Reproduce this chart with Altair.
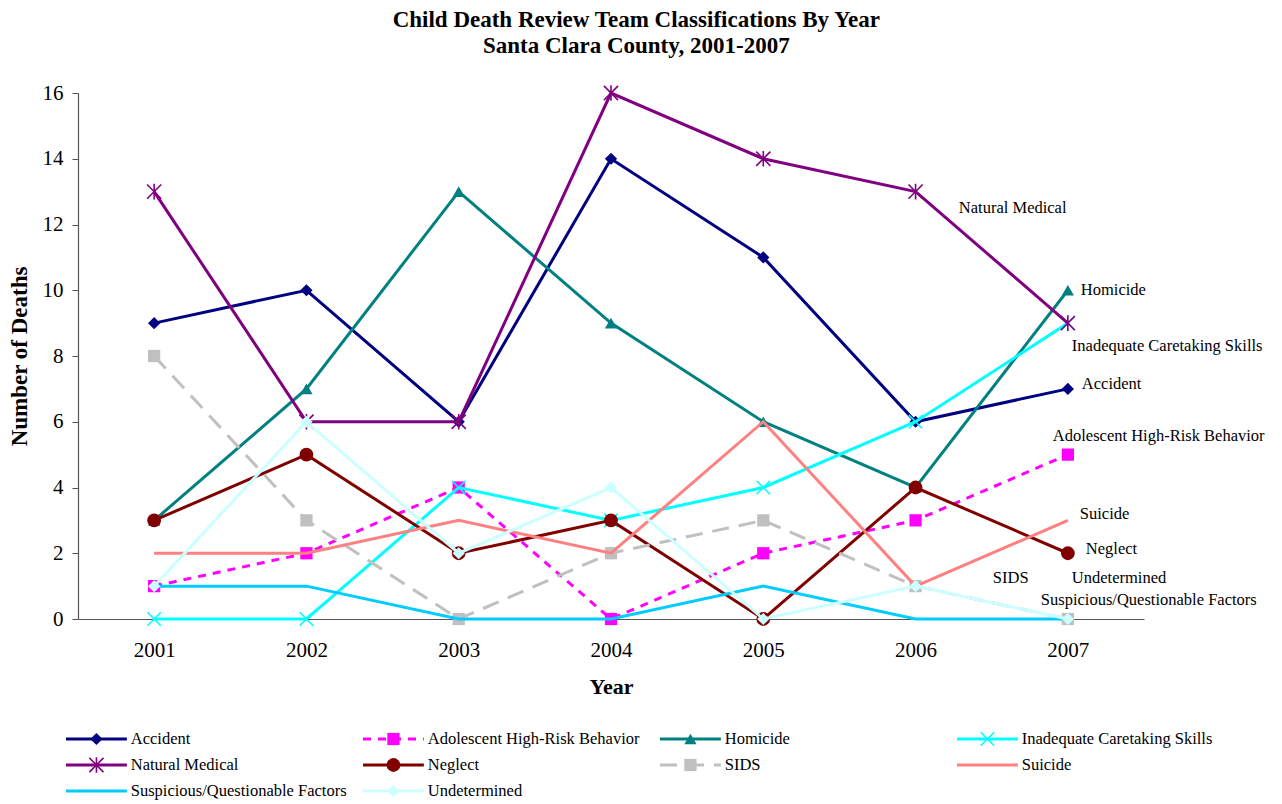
import altair as alt
import pandas as pd

FONT = "Liberation Serif"

years = ["2001", "2002", "2003", "2004", "2005", "2006", "2007"]
series = [
    "Accident",
    "Adolescent High-Risk Behavior",
    "Homicide",
    "Inadequate Caretaking Skills",
    "Natural Medical",
    "Neglect",
    "SIDS",
    "Suicide",
    "Suspicious/Questionable Factors",
    "Undetermined",
]
accident = [9, 10, 6, 14, 11, 6, 7]
adolescent = [1, 2, 4, 0, 2, 3, 5]
homicide = [3, 7, 13, 9, 6, 4, 10]
inadequate = [0, 0, 4, 3, 4, 6, 9]
natural_medical = [13, 6, 6, 16, 14, 13, 9]
neglect = [3, 5, 2, 3, 0, 4, 2]
sids = [8, 3, 0, 2, 3, 1, 0]
suicide = [2, 2, 3, 2, 6, 1, 3]
suspicious = [1, 1, 0, 0, 1, 0, 0]
undetermined = [1, 6, 2, 4, 0, 1, 0]
all_values = [accident, adolescent, homicide, inadequate, natural_medical,
              neglect, sids, suicide, suspicious, undetermined]

legend_row = [0, 0, 0, 0, 1, 1, 1, 1, 2, 2]
legend_col = [0, 1, 2, 3, 0, 1, 2, 3, 0, 1]

# styles
ASTERISK = "M-1,-1L1,1M-1,1L1,-1M0,-1.1L0,1.1"
XMARK = "M-1,-1L1,1M-1,1L1,-1"
style = {
    "Accident": dict(color="#000080", shape="diamond", filled=True, size=150),
    "Adolescent High-Risk Behavior": dict(color="#FF00FF", shape="square", filled=True, size=150, dash=[8, 7]),
    "Homicide": dict(color="#008080", shape="triangle-up", filled=True, size=150),
    "Inadequate Caretaking Skills": dict(color="#00FFFF", shape=XMARK, filled=False, size=180),
    "Natural Medical": dict(color="#800080", shape=ASTERISK, filled=False, size=200),
    "Neglect": dict(color="#800000", shape="circle", filled=True, size=190),
    "SIDS": dict(color="#C0C0C0", shape="square", filled=True, size=150, dash=[17, 10]),
    "Suicide": dict(color="#FF8080"),
    "Suspicious/Questionable Factors": dict(color="#00CCFF"),
    "Undetermined": dict(color="#CCFFFF", shape="diamond", filled=True, size=150),
}
# end-label offsets (pixels) from each series' 2007 point
label_off = {
    "Natural Medical": (-109, -115),
    "Homicide": (13, 0),
    "Inadequate Caretaking Skills": (4, 23),
    "Accident": (14, -5),
    "Adolescent High-Risk Behavior": (-15, -19),
    "Suicide": (12, -6),
    "Neglect": (18, -4),
    "SIDS": (-75, -41),
    "Undetermined": (4, -41),
    "Suspicious/Questionable Factors": (-27, -19),
}
TXT = 16.5

rows = []
for s, vals in zip(series, all_values):
    for yr, v in zip(years, vals):
        rows.append({"series": s, "year": yr, "deaths": v})
df = pd.DataFrame(rows)

x_enc = alt.X(
    "year:O",
    scale=alt.Scale(type="point", padding=0.5),
    axis=alt.Axis(title="Year", labelAngle=0, ticks=False, labelPadding=20,
                  titlePadding=16, domainColor="#555555", domainWidth=1.2,
                  labelFont=FONT, labelFontSize=21, labelColor="black",
                  titleFont=FONT, titleFontSize=22, titleFontWeight="bold", titleColor="black"),
)
y_enc = alt.Y(
    "deaths:Q",
    scale=alt.Scale(domain=[0, 16], nice=False),
    axis=alt.Axis(title="Number of Deaths", values=list(range(0, 17, 2)), grid=False,
                  tickSize=6, tickColor="#555555", domainColor="#555555", domainWidth=1.2,
                  labelPadding=9, titlePadding=11,
                  labelFont=FONT, labelFontSize=21, labelColor="black",
                  titleFont=FONT, titleFontSize=23, titleFontWeight="bold", titleColor="black"),
)

base = alt.Chart(df)
layers = []
for s in series:
    st = style[s]
    d = base.transform_filter(alt.datum.series == s)
    lk = dict(color=st["color"], strokeWidth=3, strokeCap="butt")
    if "dash" in st:
        lk["strokeDash"] = st["dash"]
    layers.append(d.mark_line(**lk).encode(x=x_enc, y=y_enc))
    if "shape" in st:
        if st["filled"]:
            pk = dict(shape=st["shape"], filled=True, color=st["color"], size=st["size"], opacity=1)
        else:
            pk = dict(shape=st["shape"], filled=False, color=st["color"], size=st["size"],
                      strokeWidth=1.6, opacity=1)
        layers.append(d.mark_point(**pk).encode(x=x_enc, y=y_enc))

for s in series:
    dx, dy = label_off[s]
    d = base.transform_filter((alt.datum.series == s) & (alt.datum.year == years[-1]))
    layers.append(
        d.mark_text(align="left", baseline="middle", dx=dx, dy=dy, font=FONT,
                    fontSize=TXT, color="black").encode(
            x=x_enc, y=y_enc, text="series:N")
    )

main = alt.layer(*layers).properties(width=1066, height=526)

# ---- manual legend ----
leg_df = pd.DataFrame({"series": series, "row": legend_row, "col": legend_col})
COLW = 297.0
LEGW = 1150
d0 = 12 / COLW
lx = alt.Scale(domain=[d0, d0 + LEGW / COLW], nice=False, zero=False)
ly = alt.Scale(domain=[-0.5, 2.5], reverse=True, nice=False, zero=False)
lbase = alt.Chart(leg_df)
leg_layers = []
for s in series:
    st = style[s]
    d = lbase.transform_filter(alt.datum.series == s).transform_calculate(
        x0="datum.col", x1="datum.col + 0.205", xm="datum.col + 0.1025", xt="datum.col + 0.218")
    rk = dict(color=st["color"], strokeWidth=3, strokeCap="butt")
    if "dash" in st:
        rk["strokeDash"] = st["dash"]
    leg_layers.append(d.mark_rule(**rk).encode(
        x=alt.X("x0:Q", scale=lx, axis=None), x2="x1:Q", y=alt.Y("row:Q", scale=ly, axis=None)))
    if "shape" in st:
        if st["filled"]:
            pk = dict(shape=st["shape"], filled=True, color=st["color"], size=st["size"], opacity=1)
        else:
            pk = dict(shape=st["shape"], filled=False, color=st["color"], size=st["size"],
                      strokeWidth=1.6, opacity=1)
        leg_layers.append(d.mark_point(**pk).encode(
            x=alt.X("xm:Q", scale=lx, axis=None), y=alt.Y("row:Q", scale=ly, axis=None)))
    leg_layers.append(d.mark_text(align="left", baseline="middle", font=FONT, fontSize=TXT,
                                  color="black").encode(
        x=alt.X("xt:Q", scale=lx, axis=None), y=alt.Y("row:Q", scale=ly, axis=None),
        text="series:N"))

legend = alt.layer(*leg_layers).properties(width=LEGW, height=78)

chart = alt.vconcat(main, legend, spacing=29).properties(
    title=alt.TitleParams(
        ["Child Death Review Team Classifications By Year", "Santa Clara County, 2001-2007"],
        font=FONT, fontSize=23, fontWeight="bold", lineHeight=26, anchor="middle",
        offset=24, color="black"),
    padding={"left": 0, "top": 1, "right": 3, "bottom": 5},
    background="white",
).configure_view(stroke=None)

chart.save("out.html", embed_options={"renderer": "svg", "actions": False})
